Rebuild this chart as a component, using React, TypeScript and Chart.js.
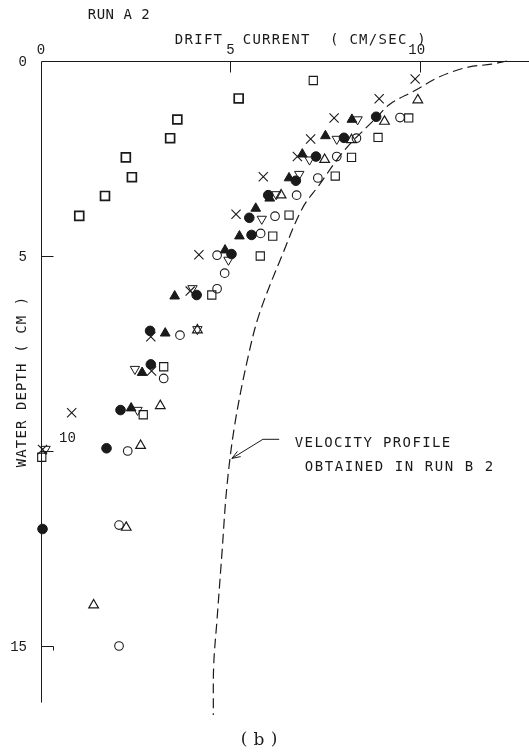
import React, { useEffect, useRef } from "react";
import { Chart, registerables } from "chart.js";

Chart.register(...registerables);

// ---- data (x = drift current cm/sec, d = water depth cm) ----
const openCircleX = [9.48, 8.33, 7.81, 7.31, 6.75, 6.18, 5.8, 4.65, 4.85, 4.65, 3.67, 3.24, 2.29, 2.06, 2.06];
const openCircleD = [1.45, 1.98, 2.45, 3.0, 3.44, 3.98, 4.42, 4.98, 5.44, 5.84, 7.03, 8.14, 10.0, 11.9, 15.0];

const filledCircleX = [8.85, 8.0, 7.26, 6.73, 6.0, 5.5, 5.56, 5.03, 4.11, 2.88, 2.9, 2.1, 1.73, 0.04];
const filledCircleD = [1.43, 1.97, 2.45, 3.07, 3.44, 4.02, 4.46, 4.95, 6.0, 6.92, 7.78, 8.95, 9.93, 12.0];

const filledTriX = [8.21, 7.51, 6.9, 6.55, 6.04, 5.67, 5.24, 4.86, 3.53, 3.28, 2.67, 2.38];
const filledTriD = [1.5, 1.92, 2.39, 3.0, 3.52, 3.78, 4.49, 4.85, 6.03, 6.98, 7.99, 8.9];

const downTriX = [8.36, 7.81, 7.09, 6.82, 6.21, 5.83, 4.95, 4.0, 4.13, 2.48, 2.55, 0.12];
const downTriD = [1.5, 2.0, 2.53, 2.9, 3.42, 4.05, 5.1, 5.83, 6.88, 7.9, 8.95, 9.95];

const crossX = [9.88, 8.93, 7.74, 7.12, 6.77, 5.87, 5.15, 4.17, 3.94, 2.9, 2.92, 0.81, 0.04];
const crossD = [0.46, 0.97, 1.46, 2.0, 2.45, 2.97, 3.93, 4.97, 5.9, 7.07, 7.95, 9.02, 9.96];

const openTriX = [9.95, 9.07, 8.2, 7.49, 6.34, 4.13, 3.15, 2.63, 2.25, 1.39];
const openTriD = [1.0, 1.55, 2.02, 2.53, 3.44, 6.9, 8.84, 9.86, 11.96, 13.95];

const squareX = [7.19, 9.71, 8.9, 8.2, 7.77, 6.55, 6.12, 5.79, 4.51, 3.24, 2.7, 0.02];
const squareD = [0.5, 1.46, 1.96, 2.47, 2.95, 3.95, 4.49, 5.0, 6.0, 7.84, 9.07, 10.16];

const squareLeftX = [5.22, 3.6, 3.41, 2.24, 2.4, 1.69, 1.01];
const squareLeftD = [0.96, 1.5, 1.98, 2.47, 2.98, 3.46, 3.97];

// velocity profile obtained in run B 2 (dashed)
const curveX = [12.3, 11.9, 11.31, 10.88, 10.45, 9.85, 9.22, 8.85, 8.02, 7.33, 6.9, 6.38, 5.77, 5.47, 5.12, 4.91, 4.78, 4.65, 4.56, 4.55];
const curveD = [0, 0.08, 0.15, 0.27, 0.44, 0.77, 1.1, 1.46, 2.28, 3.2, 3.78, 4.95, 6.47, 7.58, 9.3, 10.9, 12.6, 14.3, 15.5, 16.77];

const xTickValues = [0, 5, 10];
const xTickLabels = ["0", "5", "10"];
const yTickValues = [0, 5, 10, 15];
const yTickLabels = ["0", "5", "10", "15"];

const titleText = "RUN A 2";
const xTitle = "DRIFT  CURRENT  ( CM/SEC )";
const yTitle = "WATER DEPTH ( CM )";
const noteLine1 = "VELOCITY PROFILE";
const noteLine2 = "OBTAINED IN RUN B 2";
const panelLabel = ["(", "b", ")"];

const pts = (xs: number[], ds: number[]) => xs.map((x, i) => ({ x, y: ds[i] }));

const INK = "#1a1a1a";
const MONO = '"DejaVu Sans Mono", monospace';
const TYPE = '"Liberation Mono", monospace';

function spaced(ctx: CanvasRenderingContext2D, text: string, cx0: number, y: number, pitch: number) {
  for (let i = 0; i < text.length; i++) {
    const c = text[i];
    if (c !== " ") ctx.fillText(c, cx0 + i * pitch, y);
  }
}

function seg(ctx: CanvasRenderingContext2D, x1: number, y1: number, x2: number, y2: number) {
  ctx.beginPath();
  ctx.moveTo(x1, y1);
  ctx.lineTo(x2, y2);
  ctx.stroke();
}

const decor = {
  id: "decor",
  beforeDraw(chart: any) {
    const ctx = chart.ctx as CanvasRenderingContext2D;
    ctx.save();
    ctx.fillStyle = "#fff";
    ctx.fillRect(0, 0, chart.width, chart.height);
    ctx.restore();
  },
  beforeDatasetsDraw(chart: any) {
    const ctx = chart.ctx as CanvasRenderingContext2D;
    const xs = chart.scales.x;
    const ys = chart.scales.y;
    const X = (v: number) => xs.getPixelForValue(v);
    const Y = (v: number) => ys.getPixelForValue(v);
    ctx.save();
    ctx.strokeStyle = INK;
    ctx.lineWidth = 1;
    const top = Math.round(Y(0)) + 0.5;
    const left = Math.round(X(0)) + 0.5;
    // axes
    seg(ctx, left, top, chart.width, top);
    seg(ctx, left, top, left, Y(16.45));
    // x ticks
    xTickValues.forEach((v) => {
      if (v === 0) return;
      const px = Math.round(X(v)) + 0.5;
      seg(ctx, px, top, px, top + 11);
    });
    // y ticks
    yTickValues.forEach((v) => {
      if (v === 0) return;
      const py = Math.round(Y(v)) + 0.5;
      seg(ctx, left, py, left + 12, py);
      if (v === 15) seg(ctx, left + 12, py, left + 12, py + 4);
    });

    // tick labels
    ctx.fillStyle = INK;
    ctx.font = `14px ${TYPE}`;
    ctx.textBaseline = "middle";
    ctx.textAlign = "center";
    xTickValues.forEach((v, i) => {
      ctx.fillText(xTickLabels[i], X(v) - (v === 10 ? 3 : 0), 50);
    });
    yTickValues.forEach((v, i) => {
      if (v === 10) {
        ctx.textAlign = "center";
        ctx.fillText(yTickLabels[i], left + 26, Y(v) - 13);
      } else {
        ctx.textAlign = "right";
        ctx.fillText(yTickLabels[i], 27, Y(v) + 1);
      }
    });

    // titles
    ctx.font = `14px ${MONO}`;
    ctx.textAlign = "center";
    spaced(ctx, titleText, 92, 15, 8.9);
    spaced(ctx, xTitle, 179, 40, 9.7);
    ctx.save();
    ctx.translate(22.5, 467);
    ctx.rotate(-Math.PI / 2);
    spaced(ctx, yTitle, 4, 0, 9.53);
    ctx.restore();

    // annotation
    spaced(ctx, noteLine1, 299, 443, 9.8);
    spaced(ctx, noteLine2, 309, 467, 10.0);
    const tipX = X(5.04), tipY = Y(10.19);
    const cornerX = X(5.86), cornerY = Y(9.7);
    const endX = X(6.29);
    ctx.lineWidth = 1;
    ctx.beginPath();
    ctx.moveTo(endX, cornerY);
    ctx.lineTo(cornerX, cornerY);
    ctx.lineTo(tipX, tipY);
    ctx.stroke();
    const ang = Math.atan2(cornerY - tipY, cornerX - tipX);
    const hl = 9;
    seg(ctx, tipX, tipY, tipX + hl * Math.cos(ang + 0.35), tipY + hl * Math.sin(ang + 0.35));
    seg(ctx, tipX, tipY, tipX + hl * Math.cos(ang - 0.35), tipY + hl * Math.sin(ang - 0.35));

    // panel label
    ctx.font = `17px "DejaVu Serif", serif`;
    ctx.textAlign = "center";
    ctx.fillText(panelLabel[0], 244, 740);
    ctx.fillText(panelLabel[1], 259, 741);
    ctx.fillText(panelLabel[2], 274, 740);
    ctx.restore();
  },
};

export default function App() {
  const ref = useRef<HTMLCanvasElement | null>(null);
  useEffect(() => {
    if (!ref.current) return;
    const hollow = "rgba(255,255,255,0)";
    const base = { borderColor: INK, clip: false as any, showLine: false };
    const chart = new Chart(ref.current, {
      type: "scatter",
      data: {
        datasets: [
          {
            data: pts(curveX, curveD),
            showLine: true,
            borderColor: INK,
            borderWidth: 1.2,
            borderDash: [10, 5],
            pointRadius: 0,
            tension: 0.35,
            fill: false,
            clip: false as any,
          },
          { ...base, data: pts(squareLeftX, squareLeftD), pointStyle: "rect", pointRadius: 6.3, borderWidth: 1.7, backgroundColor: hollow },
          { ...base, data: pts(squareX, squareD), pointStyle: "rect", pointRadius: 5.8, borderWidth: 1.1, backgroundColor: hollow },
          { ...base, data: pts(openCircleX, openCircleD), pointStyle: "circle", pointRadius: 4.3, borderWidth: 1.1, backgroundColor: hollow },
          { ...base, data: pts(openTriX, openTriD), pointStyle: "triangle", pointRadius: 5.6, borderWidth: 1.2, backgroundColor: hollow },
          { ...base, data: pts(downTriX, downTriD), pointStyle: "triangle", rotation: 180, pointRadius: 5.4, borderWidth: 1.0, backgroundColor: hollow },
          { ...base, data: pts(crossX, crossD), pointStyle: "crossRot", pointRadius: 6.5, borderWidth: 1.1, backgroundColor: hollow },
          { ...base, data: pts(filledTriX, filledTriD), pointStyle: "triangle", pointRadius: 5.6, borderWidth: 1, backgroundColor: INK },
          { ...base, data: pts(filledCircleX, filledCircleD), pointStyle: "circle", pointRadius: 4.8, borderWidth: 1, backgroundColor: INK },
        ] as any,
      },
      options: {
        responsive: false,
        animation: false,
        devicePixelRatio: 1,
        events: [],
        layout: { padding: { left: 41, top: 61, right: 0, bottom: 30 } },
        scales: {
          x: { type: "linear", min: 0, max: 12.675, display: false },
          y: { type: "linear", min: 0, max: 17, reverse: true, display: false },
        },
        plugins: { legend: { display: false }, tooltip: { enabled: false } },
      },
      plugins: [decor],
    });
    return () => chart.destroy();
  }, []);
  return (
    <div style={{ position: "fixed", left: 0, top: 0, width: 529, height: 754, background: "#fff" }}>
      <canvas ref={ref} width={529} height={754} style={{ display: "block", width: 529, height: 754 }} />
    </div>
  );
}
